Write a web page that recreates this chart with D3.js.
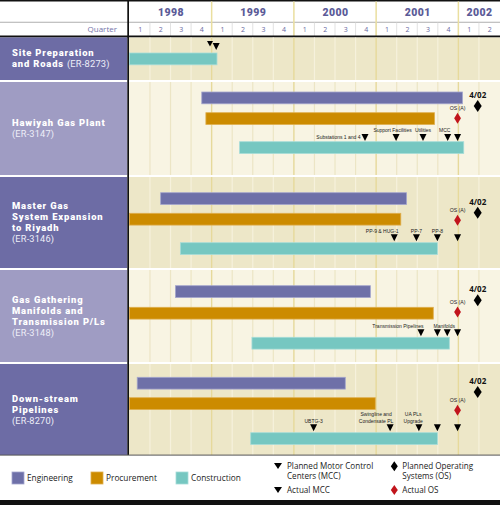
<!DOCTYPE html>
<html>
<meta charset="utf-8">
<style>
  body { margin: 0; background: #fff; }
  svg text { font-family: "Open Sans", sans-serif; }
</style>
<body>
<script src="https://d3js.org/d3.v7.min.js"></script>
<script>

// ---- data: dates as decimal years (1998.0 = start of 1998 Q1) ----
var years = [1998, 1999, 2000, 2001, 2002];
var quarterLabels = ["1","2","3","4","1","2","3","4","1","2","3","4","1","2","3","4","1","2"];

var projectNames = [
  ["Site Preparation", "and Roads"],
  ["Hawiyah Gas Plant"],
  ["Master Gas", "System Expansion", "to Riyadh"],
  ["Gas Gathering", "Manifolds and", "Transmission P/Ls"],
  ["Down-stream", "Pipelines"]
];
var projectCodes = ["(ER-8273)", "(ER-3147)", "(ER-3146)", "(ER-3148)", "(ER-8270)"];

var engineering  = [null, [1998.88, 2002.05], [1998.38, 2001.37], [1998.56, 2000.93], [1998.095, 2000.625]];
var procurement  = [null, [1998.93, 2001.71], [1998.0, 2001.30], [1998.0, 2001.695], [1998.0, 2000.99]];
var construction = [[1998.0, 1999.065], [1999.34, 2002.065], [1998.62, 2001.745], [1999.49, 2001.89], [1999.475, 2001.745]];

// motor control centre milestones (triangles)
var mccMarks = [
  [{t: 1998.98, kind: "planned", label: ""}, {t: 1999.055, kind: "actual", label: ""}],
  [{t: 2000.865, label: "Substations 1 and 4"}, {t: 2001.2425, label: "Support Facilities"},
   {t: 2001.57, label: "Utilities"}, {t: 2001.87, label: "MCC"}, {t: 2001.99, label: ""}],
  [{t: 2001.22, label: "PP-9 & HUG-1"}, {t: 2001.49, label: "PP-7"},
   {t: 2001.745, label: "PP-8"}, {t: 2001.99, label: ""}],
  [{t: 2001.545, label: "Transmission Pipelines"}, {t: 2001.745, label: ""},
   {t: 2001.865, label: "Manifolds"}, {t: 2001.99, label: ""}],
  [{t: 2000.24, label: "UBTG-3"}, {t: 2001.17, label: "Swingline and|Condensate PL"},
   {t: 2001.52, label: "UA PLs|Upgrade"}, {t: 2001.745, label: ""}, {t: 2001.99, label: ""}]
];
var osActual  = [null, 2001.99, 2001.99, 2001.99, 2001.99];
var osPlanned = [null, 2002.235, 2002.235, 2002.235, 2002.235];
var osActualLabel = "OS (A)";
var osPlannedLabel = "4/02";

var legendBars = ["Engineering", "Procurement", "Construction"];

// ---- layout ----
var W = 500, H = 505;
var leftW = 127.3;
var rowTop = [37.5, 82, 177, 270, 364];
var rowBot = [80, 175, 268, 362, 455];
// lane offsets from row top: eng, proc, triangles, const, planned OS, actual OS
var lanes = [
  {c: 15.5, tri: 3.5},
  {e: 10, p: 30.7, tri: 52, c: 59.7, op: 24, oa: 36.2},
  {e: 15.7, p: 36.3, tri: 57.3, c: 65.7, op: 35.8, oa: 43.3},
  {e: 15.7, p: 37.3, tri: 59.3, c: 67.3, op: 30.3, oa: 42},
  {e: 13.3, p: 33.7, tri: 60.3, c: 68.7, op: 28, oa: 46.3}
];
var labelShift = {"Support Facilities": -3.5, "MCC": -3, "PP-9 & HUG-1": -12,
  "Transmission Pipelines": -23, "Manifolds": -3, "Swingline and|Condensate PL": -14,
  "UA PLs|Upgrade": -5.7};
var smallFont = "'Liberation Sans', Arial, sans-serif";
var barH = 11.8;
var colors = {eng: "#6e70a8", proc: "#cc8b00", cons: "#76c7c1"};
var strokes = {eng: "#a3a5cd", proc: "#dfae4e", cons: "#a6dcd8"};
var dark = "#6d6ca5", light = "#9f9cc3", beige = "#ede7c8", pale = "#f8f4e3";

var x = d3.scaleLinear().domain([1998, 2002.5]).range([129.4, 499.5]);
var quarterTicks = d3.range(0, 19).map(function(i) { return 1998 + i / 4; });

var svg = d3.select("body").append("svg")
  .attr("width", W).attr("height", H);

// header
svg.append("rect").attr("x", 0).attr("y", 0).attr("width", W).attr("height", 1.5).attr("fill", "#111");
svg.append("rect").attr("x", 0).attr("y", 21.8).attr("width", W).attr("height", 0.8).attr("fill", "#9a9a9a");
svg.selectAll(".qsep").data(quarterTicks.slice(1, 18)).enter().append("line")
  .attr("x1", function(d) { return x(d); }).attr("x2", function(d) { return x(d); })
  .attr("y1", 22.5).attr("y2", 36)
  .attr("stroke", "#d9d9d9").attr("stroke-width", 0.8);
svg.selectAll(".ysep").data(years.slice(1)).enter().append("line")
  .attr("x1", function(d) { return x(d); }).attr("x2", function(d) { return x(d); })
  .attr("y1", 1.5).attr("y2", 36)
  .attr("stroke", "#eadf9f").attr("stroke-width", 1.5);

var yearAxis = d3.axisBottom(x)
  .tickValues(years.map(function(y) { return (Math.max(y, 1998) + Math.min(y + 1, 2002.5)) / 2; }))
  .tickFormat(function(d, i) { return years[i]; })
  .tickSize(0);
var gy = svg.append("g").attr("transform", "translate(0,12.5)").call(yearAxis);
gy.select(".domain").remove();
gy.selectAll("text").attr("dy", "0.35em").attr("y", 0)
  .style("font-family", "Roboto, sans-serif").style("font-weight", "900")
  .style("font-size", "10.5px").style("letter-spacing", "0.4px").attr("fill", "#5b5b98");

var quarterAxis = d3.axisBottom(x)
  .tickValues(quarterTicks.slice(0, 18).map(function(d) { return d + 0.125; }))
  .tickFormat(function(d, i) { return quarterLabels[i]; })
  .tickSize(0);
var gq = svg.append("g").attr("transform", "translate(0,29.5)").call(quarterAxis);
gq.select(".domain").remove();
gq.selectAll("text").attr("dy", "0.35em").attr("y", 0)
  .style("font-size", "7px").attr("fill", "#6a6aa2");

svg.append("text").attr("x", 117).attr("y", 29.5).attr("dy", "0.35em")
  .attr("text-anchor", "end").style("font-size", "8px").attr("fill", "#7575aa").text("Quarter");

svg.append("rect").attr("x", 0).attr("y", 35.5).attr("width", W).attr("height", 2).attr("fill", "#111");

// rows
projectNames.forEach(function(names, i) {
  var top = rowTop[i], bot = rowBot[i], L = lanes[i];
  var g = svg.append("g");
  g.append("rect").attr("x", 0).attr("y", top).attr("width", leftW).attr("height", bot - top)
    .attr("fill", i % 2 ? light : dark);
  g.append("rect").attr("x", 129).attr("y", top).attr("width", W - 129).attr("height", bot - top)
    .attr("fill", i % 2 ? pale : beige);

  // grid
  g.selectAll(".grid").data(quarterTicks.slice(1, 18)).enter().append("line")
    .attr("x1", function(d) { return x(d); }).attr("x2", function(d) { return x(d); })
    .attr("y1", top).attr("y2", bot)
    .attr("stroke", function(d) {
      if (d % 1 === 0) return "#e6d99b";
      return i % 2 ? "#ece5c5" : "#f6f1dc";
    })
    .attr("stroke-width", function(d) { return d % 1 === 0 ? 1.4 : 1.2; });

  // project label
  var lines = names.slice();
  var lh = 11;
  var nLines = i === 0 ? lines.length : lines.length + 1;
  var cy = (top + bot) / 2 - (nLines - 1) * lh / 2;
  if (i === 0) cy = 52.7;
  var t = g.append("text").attr("fill", "#fff")
    .style("font-family", "Roboto, sans-serif").style("font-size", "9.4px");
  lines.forEach(function(s, k) {
    t.append("tspan").attr("x", 12).attr("y", cy + k * lh).attr("dy", "0.35em")
      .style("font-weight", "900").style("letter-spacing", "0.85px").text(s);
    if (i === 0 && k === lines.length - 1) {
      t.append("tspan").attr("dx", 3).style("font-weight", "normal").style("font-size", "9.3px")
        .style("letter-spacing", "0.2px").attr("fill", "#eeeef8").text(projectCodes[i]);
    }
  });
  if (i > 0) {
    t.append("tspan").attr("x", 12).attr("y", cy + lines.length * lh).attr("dy", "0.35em")
      .style("font-weight", "normal").style("font-size", "9.2px").style("letter-spacing", "0.2px")
      .attr("fill", "#eeeef8").text(projectCodes[i]);
  }

  // bars
  var bars = [
    {d: engineering[i], off: L.e, k: "eng"},
    {d: procurement[i], off: L.p, k: "proc"},
    {d: construction[i], off: L.c, k: "cons"}
  ].filter(function(b) { return b.d; });
  g.selectAll(".bar").data(bars).enter().append("rect")
    .attr("x", function(b) { return x(b.d[0]); })
    .attr("width", function(b) { return x(b.d[1]) - x(b.d[0]); })
    .attr("y", function(b) { return top + b.off; })
    .attr("height", barH)
    .attr("fill", function(b) { return colors[b.k]; })
    .attr("stroke", function(b) { return strokes[b.k]; })
    .attr("stroke-width", 0.8);

  // triangles
  var marks = mccMarks[i];
  marks.forEach(function(m) {
    var ty = top + L.tri + (m.kind === "actual" ? 2 : 0);
    var w = m.kind === "planned" ? 3 : 3.5, h = m.kind === "planned" ? 5.5 : 7;
    g.append("path")
      .attr("d", "M" + (x(m.t) - w) + "," + ty + "L" + (x(m.t) + w) + "," + ty + "L" + x(m.t) + "," + (ty + h) + "Z")
      .attr("fill", "#000");
    if (!m.label) return;
    var parts = m.label.split("|");
    var lt = g.append("text").style("font-family", smallFont).style("font-size", "5px").attr("fill", "#222");
    if (m.label === "Substations 1 and 4") {
      lt.attr("x", x(m.t) - 4.5).attr("y", ty + 3).attr("dy", "0.35em").attr("text-anchor", "end").text(m.label);
      return;
    }
    var sh = labelShift[m.label] || 0;
    lt.attr("text-anchor", "middle");
    parts.forEach(function(p, k) {
      lt.append("tspan").attr("x", x(m.t) + sh)
        .attr("y", ty - 3.5 - (parts.length - 1 - k) * 6.2).attr("dy", "0.35em").text(p);
    });
  });

  // operating systems
  if (osPlanned[i]) {
    var px = x(osPlanned[i]), py = top + L.op;
    g.append("path").attr("d", "M" + px + "," + (py - 6) + "L" + (px + 4) + "," + py + "L" + px + "," + (py + 6) + "L" + (px - 4) + "," + py + "Z")
      .attr("fill", "#000");
    g.append("text").attr("x", px).attr("y", py - 11).attr("dy", "0.35em").attr("text-anchor", "middle")
      .style("font-size", "8px").style("font-weight", "bold").attr("fill", "#111").text(osPlannedLabel);
  }
  if (osActual[i]) {
    var ax = x(osActual[i]), ay = top + L.oa;
    g.append("path").attr("d", "M" + ax + "," + (ay - 5.5) + "L" + (ax + 3.4) + "," + ay + "L" + ax + "," + (ay + 5.5) + "L" + (ax - 3.4) + "," + ay + "Z")
      .attr("fill", "#c1141c");
    g.append("text").attr("x", ax).attr("y", ay - 10).attr("dy", "0.35em").attr("text-anchor", "middle")
      .style("font-family", smallFont).style("font-size", "5.2px").attr("fill", "#222").text(osActualLabel);
  }
});

// left divider
svg.append("rect").attr("x", 127.3).attr("y", 0).attr("width", 1.7).attr("height", 455).attr("fill", "#111");
// bottom edge of chart
svg.append("rect").attr("x", 0).attr("y", 454.6).attr("width", W).attr("height", 1).attr("fill", "#555");

// legend
var lg = svg.append("g");
var swX = [12, 91, 176];
var swColors = [colors.eng, colors.proc, colors.cons];
var swStrokes = [strokes.eng, strokes.proc, strokes.cons];
legendBars.forEach(function(name, k) {
  lg.append("rect").attr("x", swX[k]).attr("y", 472).attr("width", 12).attr("height", 12)
    .attr("fill", swColors[k]).attr("stroke", swStrokes[k]).attr("stroke-width", 0.8);
  lg.append("text").attr("x", swX[k] + 15).attr("y", 478).attr("dy", "0.35em")
    .style("font-size", "8.3px").attr("fill", "#222").text(name);
});
function tri(cx, ty) {
  lg.append("path").attr("d", "M" + (cx - 4) + "," + ty + "L" + (cx + 4) + "," + ty + "L" + cx + "," + (ty + 6) + "Z").attr("fill", "#000");
}
function diamond(cx, cy, fill) {
  lg.append("path").attr("d", "M" + cx + "," + (cy - 5) + "L" + (cx + 3.5) + "," + cy + "L" + cx + "," + (cy + 5) + "L" + (cx - 3.5) + "," + cy + "Z").attr("fill", fill);
}
function ltext(tx, ty, s) {
  lg.append("text").attr("x", tx).attr("y", ty).attr("dy", "0.35em")
    .style("font-size", "8.1px").attr("fill", "#222").text(s);
}
tri(278, 463);
ltext(287, 466, "Planned Motor Control");
ltext(287, 476, "Centers (MCC)");
tri(278, 487);
ltext(287, 490, "Actual MCC");
diamond(394.3, 466.3, "#000");
ltext(402.3, 466, "Planned Operating");
ltext(402.3, 476, "Systems (OS)");
diamond(394.3, 490, "#c1141c");
ltext(402.3, 490, "Actual OS");

svg.append("rect").attr("x", 0).attr("y", 500).attr("width", W).attr("height", 5).attr("fill", "#111");
</script>
</body>
</html>
